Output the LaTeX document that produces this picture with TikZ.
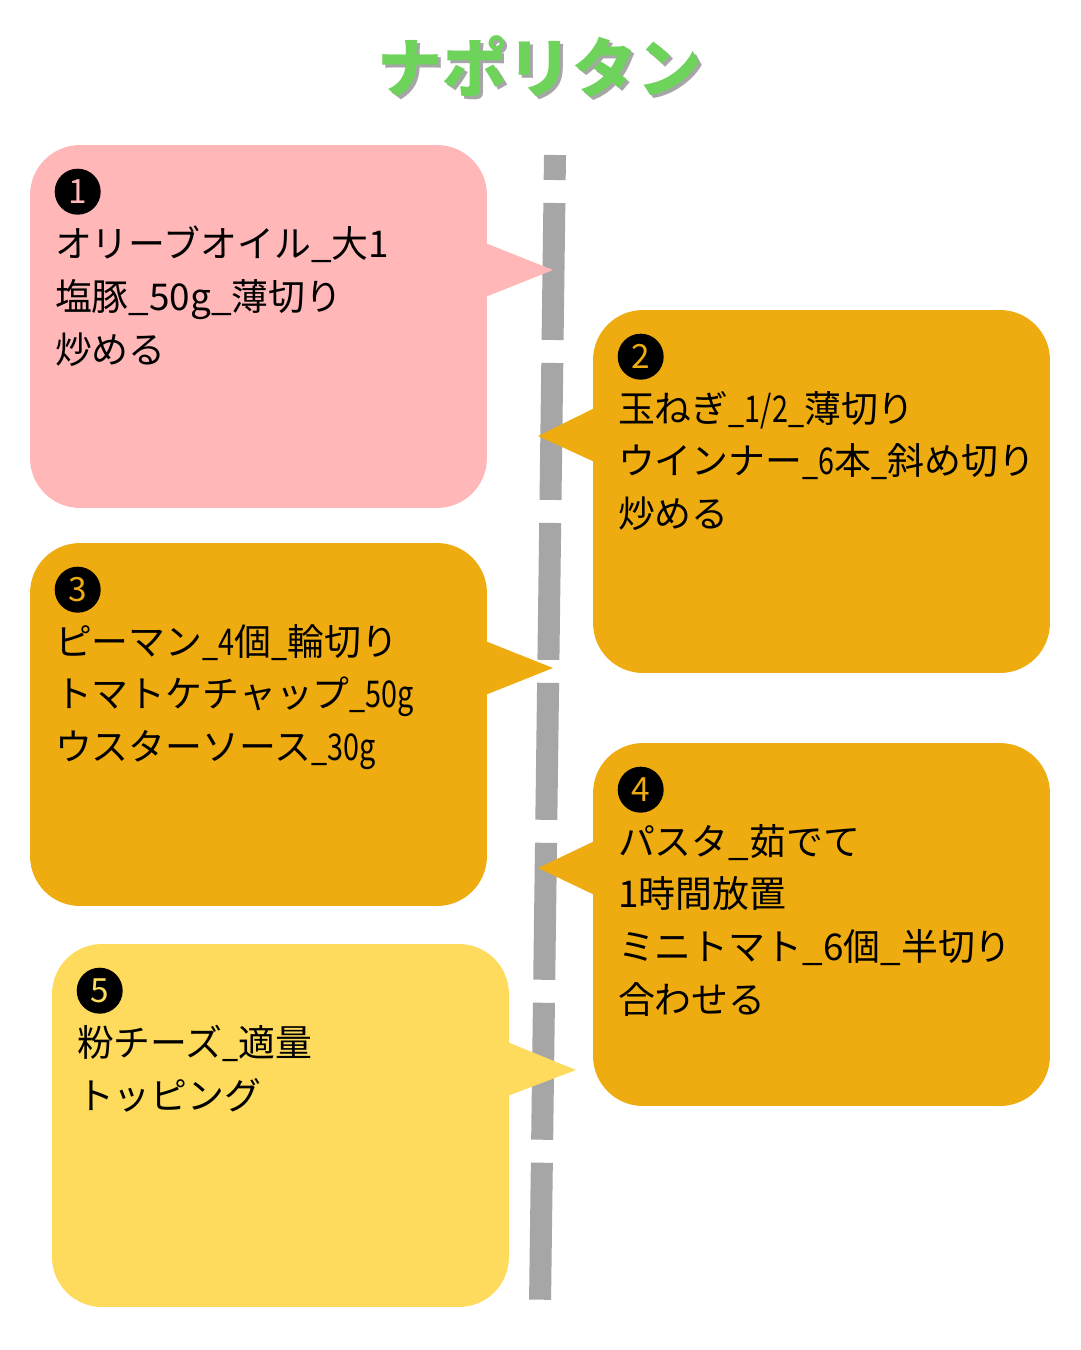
\documentclass[tikz,border=0pt]{standalone}
\usepackage{fontspec}
\usetikzlibrary{calc}
\setmainfont{Noto Sans CJK JP}
\newfontfamily\squeezefont{Noto Sans CJK JP}[FakeStretch=0.78]
\newcommand{\sq}[1]{{\squeezefont #1}}
\definecolor{pinkbox}{HTML}{FFB7B7}
\definecolor{orangebox}{HTML}{EEAC10}
\definecolor{yellowbox}{HTML}{FEDB5C}
\definecolor{dashgray}{HTML}{A6A6A6}
\definecolor{titlegreen}{HTML}{6DD35B}

\tikzset{
  stepbox/.style={rounded corners=1cm, minimum width=9.14cm,
    minimum height=7.26cm, inner sep=0pt},
  numdot/.style={circle, fill=black, minimum size=0.92cm, inner sep=0pt,
    font=\fontsize{19}{19}\selectfont},
  steptext/.style={anchor=north west, inner sep=0pt, align=left,
    font=\fontsize{21}{30}\selectfont}
}

\begin{document}
\begin{tikzpicture}[x=0.02cm,y=-0.02cm]
    \fill[white] (0,0) rectangle (1080,1350);
    \useasboundingbox (0,0) rectangle (1080,1350);
    % title
    \node[text=black!35, font=\fontsize{37}{37}\selectfont\bfseries] (shadow) at (543,70) {ナポリタン};
    \node[text=titlegreen, font=\fontsize{37}{37}\selectfont\bfseries] (title) at (540,67) {ナポリタン};
    % time line
    \coordinate (ltop) at (555,155);
    \coordinate (lbot) at (540,1305);
    \draw[dashgray, line width=0.44cm, dash pattern=on 2.74cm off 0.46cm,
      dash phase=2.24cm] (ltop) -- (lbot);
    % steps
    \foreach \n/\cx/\cy/\c/\side/\dx/\tx/\ty/\txt in {
      1/258.5/326.5/pinkbox/east/-2/553/270/{オリーブオイル\_大1\\塩豚\_50g\_薄切り\\炒める},
      2/821.5/491.5/orangebox/west/2/538/436/{玉ねぎ\sq{\_1/2\_}薄切り\\ウインナー\sq{\_6}本\sq{\_}斜め切り\\炒める},
      3/258.5/724.5/orangebox/east/-2/553/668/{ピーマン\sq{\_4}個\sq{\_}輪切り\\トマトケチャップ\sq{\_50g}\\ウスターソース\sq{\_30g}},
      4/821.5/924.5/orangebox/west/2/538/868/{パスタ\_茹でて\\1時間放置\\ミニトマト\_6個\_半切り\\合わせる},
      5/280.5/1125.5/yellowbox/east/-2/576/1070/{粉チーズ\sq{\_}適量\\トッピング}} {
     \node[stepbox, fill=\c] (s\n) at (\cx,\cy) {};
     \coordinate (t\n) at (\tx,\ty);
     \fill[\c] ($(s\n.\side)+(\dx,-83.5)$) -- (t\n) --
       ($(s\n.\side)+(\dx,-29.5)$) -- cycle;
     \node[numdot, text=\c] (n\n) at ($(s\n.north west)+(48,47)$) {\n};
     \node[steptext] (x\n) at ($(s\n.north west)+(25,81)$) {\txt};
    }
\end{tikzpicture}
\end{document}
